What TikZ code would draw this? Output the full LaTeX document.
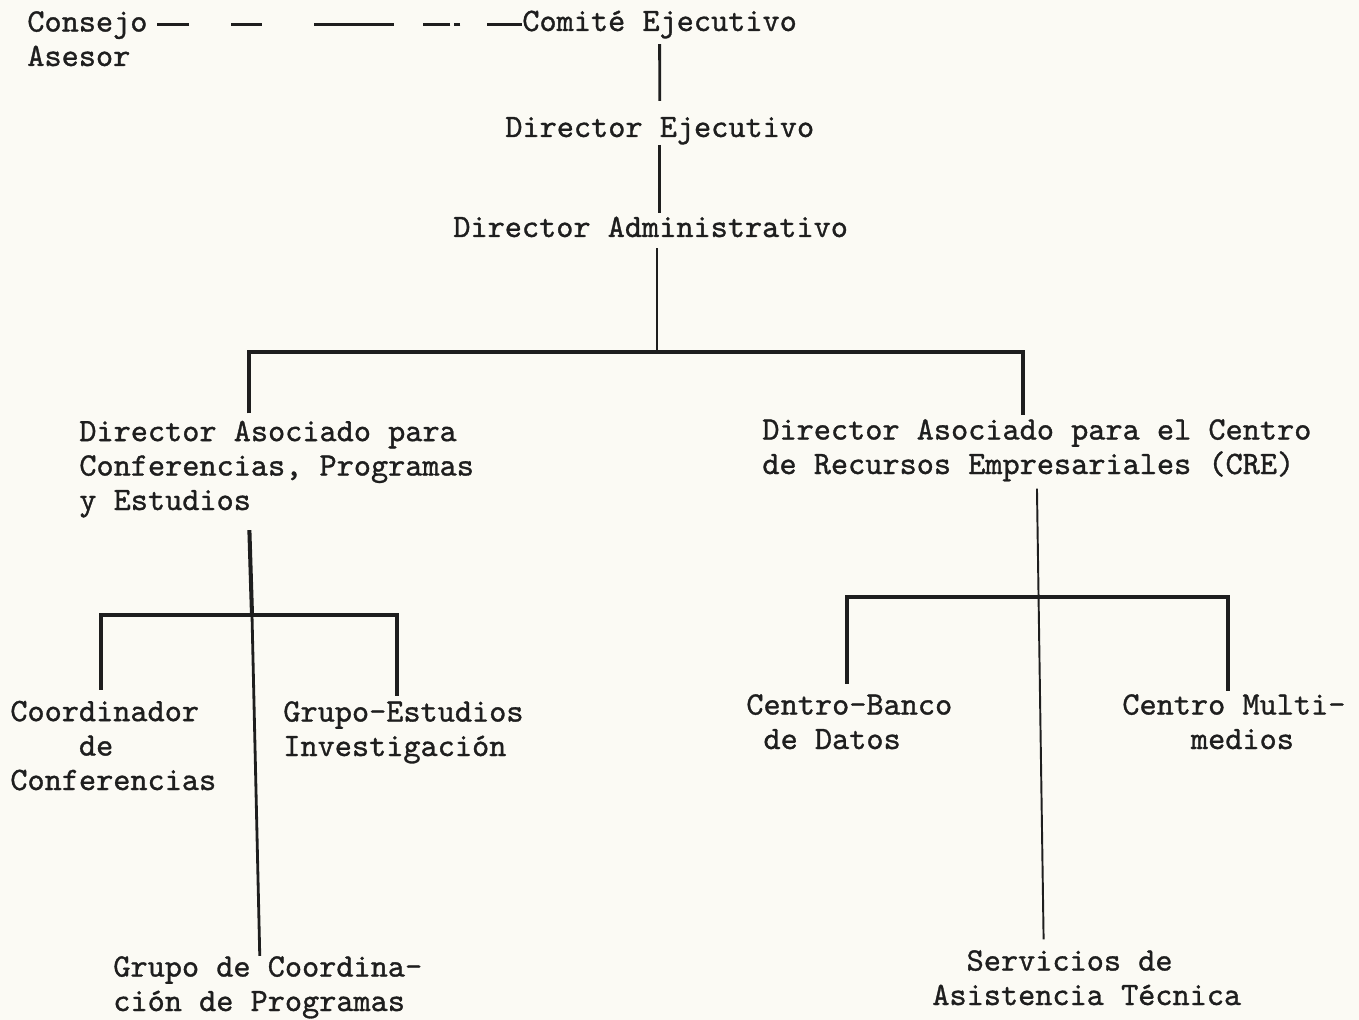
\documentclass[tikz,border=0pt]{standalone}
\usepackage{fontspec}
\usepackage{tikz}
\usetikzlibrary{calc}
\newfontfamily\typefont{lmmono10-regular.otf}[FakeBold=1]
\definecolor{paper}{HTML}{FBFAF4}
\definecolor{ink}{HTML}{1E1E1E}

\begin{document}
\begin{tikzpicture}[x=0.02cm,y=-0.02cm,
    every node/.style={font=\typefont\fontsize{18.6}{19.6}\selectfont,text=ink,inner sep=0pt,align=left,anchor=base west},
    link/.style={draw=ink,line width=1.6pt},
    thinlink/.style={draw=ink,line width=1.1pt}]
  \fill[paper] (0,0) rectangle (1359,1020);
  \useasboundingbox (0,0) rectangle (1359,1020);
  % nodes: name / left x / baseline of last line / text
  \foreach \nm/\x/\y/\txt in {%
    consejo/27/66/{Consejo\\Asesor}, comite/522/31/{Comité Ejecutivo},
    direjec/505/137/{Director Ejecutivo}, diradmin/453/237/{Director Administrativo},
    dirconf/79/510/{Director Asociado para\\Conferencias, Programas\\y Estudios},
    dircre/762/474/{Director Asociado para el Centro\\de Recursos Empresariales (CRE)},
    coordconf/10/790/{Coordinador\\\hphantom{Coor}de\\Conferencias},
    grupoinv/283/756/{Grupo-Estudios\\Investigación},
    grupocoord/113/1011/{Grupo de Coordina-\\ción de Programas},
    bancodatos/746/749/{Centro-Banco\\\hphantom{C}de Datos},
    multimedios/1122/749/{Centro Multi-\\\hphantom{Cent}medios},
    asistencia/932/1005/{\hphantom{As}Servicios de\\Asistencia Técnica}%
  } {
    \node (\nm) at (\x,\y) {\txt};
  }
  % junctions
  \coordinate (topbar) at (657,352);
  \coordinate (barL) at (249,352);
  \coordinate (barR) at (1023,352);
  \coordinate (confbar) at (252,615);
  \coordinate (confbarL) at (101,615);
  \coordinate (confbarR) at (397,615);
  \coordinate (crebarL) at (847,597);
  \coordinate (crebarR) at (1228,597);
  % top of the chart
  \draw[link,line width=1.4pt,dash pattern=on 19.8pt off 15.3pt on 3.4pt off 2.3pt on 15.3pt off 17pt on 45.4pt off 29.5pt on 17.6pt off 23.8pt on 18.1pt off 30pt]
    (comite.west) -- (comite.west -| consejo.east);
  \draw[link,shorten <=3pt,shorten >=9pt] (comite.south) -- (direjec.north);
  \draw[link,shorten >=2pt] (direjec.south) -- (direjec.south |- diradmin.north);
  \draw[link,shorten <=6pt] (diradmin.south -| topbar) -- (topbar);
  \draw[link,line width=2pt,shorten <=4pt,shorten >=2.3pt] (dirconf.north -| barL) -- (barL) -- (barR) -- (barR |- dircre.north);
  % left branch
  \draw[link,line width=2.3pt,shorten <=7pt] (dirconf.south -| barL) -- (confbar);
  \draw[link] (confbar) -- ($(grupocoord.north)+(-8,0)$);
  \draw[link,line width=1.9pt,shorten <=6.2pt,shorten >=2.8pt] (coordconf.north -| confbarL) -- (confbarL) -- (confbarR) -- (confbarR |- grupoinv.north);
  % right branch
  \draw[thinlink,shorten <=4pt,shorten >=6pt] (dircre.south) -- ($(asistencia.north)+(-43,0)$);
  \draw[link,line width=1.9pt,shorten <=5.7pt,shorten >=1.7pt] (bancodatos.north -| crebarL) -- (crebarL) -- (crebarR) -- (crebarR |- multimedios.north);
\end{tikzpicture}
\end{document}
